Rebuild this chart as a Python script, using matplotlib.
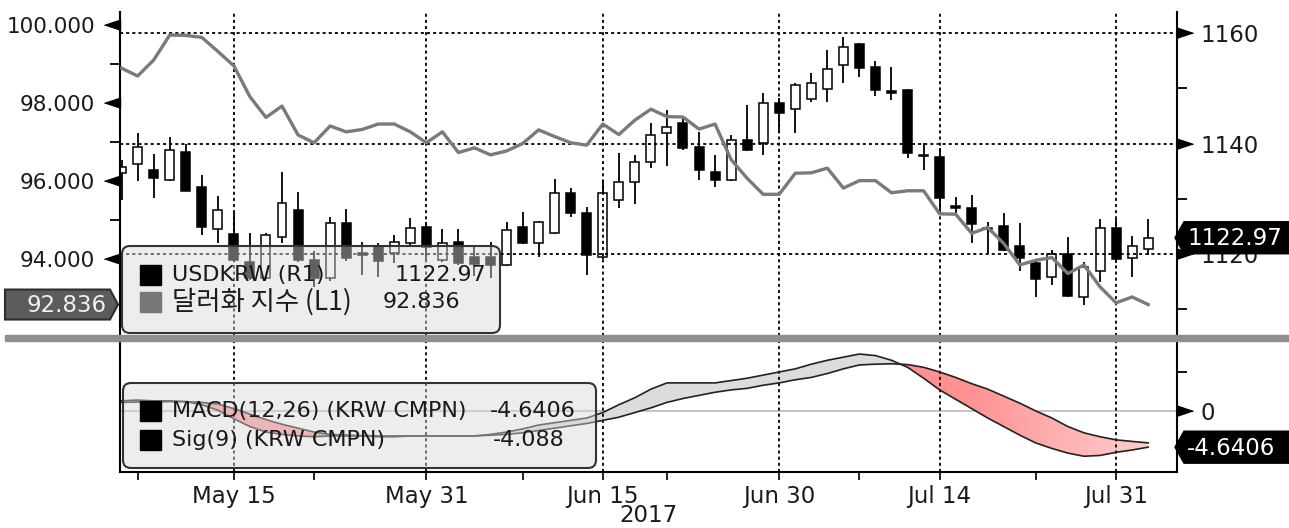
import numpy as np
import pandas as pd
import matplotlib
matplotlib.use("Agg")
import matplotlib.pyplot as plt
from matplotlib.patches import FancyBboxPatch, Polygon, Rectangle
from matplotlib.path import Path
from matplotlib.colors import LinearSegmentedColormap
from matplotlib.transforms import blended_transform_factory, IdentityTransform

W, H = 1289, 528

# ---- data ----
dates = pd.bdate_range("2017-05-04", "2017-08-02")

krw_open = [1134.7, 1136.3, 1135.3, 1133.4, 1138.5, 1132.1, 1124.6, 1123.7, 1118.6, 1115.7,
            1123.1, 1128.0, 1119.0, 1115.7, 1125.6, 1120.3, 1121.3, 1120.2, 1122.0, 1124.9,
            1118.9, 1122.2, 1119.5, 1119.5, 1118.0, 1124.9, 1122.0, 1123.8, 1131.0, 1127.4,
            1119.5, 1129.8, 1133.0, 1136.7, 1141.9, 1143.7, 1139.4, 1134.8, 1133.4, 1140.6,
            1140.1, 1147.3, 1146.2, 1148.1, 1149.9, 1154.2, 1158.0, 1153.8, 1149.5, 1149.7,
            1138.0, 1137.6, 1128.7, 1128.3, 1124.8, 1125.1, 1121.4, 1118.4, 1115.8, 1120.0,
            1112.2, 1116.9, 1124.7, 1119.3, 1120.9]
krw_high = [1137.0, 1142.0, 1138.2, 1141.2, 1140.0, 1134.3, 1130.5, 1127.6, 1123.8, 1123.8,
            1134.8, 1131.2, 1120.5, 1126.7, 1128.1, 1122.2, 1122.0, 1123.4, 1126.5, 1125.8,
            1124.5, 1124.5, 1121.3, 1122.2, 1125.8, 1127.6, 1126.0, 1133.6, 1131.9, 1128.5,
            1133.4, 1138.3, 1137.9, 1143.7, 1146.1, 1144.6, 1142.1, 1137.9, 1141.5, 1147.0,
            1149.1, 1148.2, 1150.9, 1152.8, 1156.9, 1159.3, 1158.2, 1154.9, 1153.8, 1149.9,
            1140.1, 1139.2, 1130.3, 1130.7, 1125.8, 1127.4, 1125.6, 1119.0, 1120.7, 1123.1,
            1118.6, 1126.3, 1126.3, 1123.3, 1126.3]
krw_low = [1129.8, 1133.3, 1130.1, 1133.3, 1131.4, 1123.4, 1122.1, 1118.5, 1115.3, 1115.5,
           1122.0, 1118.5, 1114.0, 1115.2, 1118.8, 1116.2, 1115.8, 1118.4, 1121.3, 1118.9,
           1118.5, 1118.0, 1116.0, 1115.7, 1117.8, 1121.8, 1119.5, 1123.6, 1126.7, 1116.2,
           1119.2, 1128.3, 1129.0, 1135.6, 1135.9, 1138.8, 1133.4, 1132.1, 1133.2, 1138.6,
           1137.9, 1141.9, 1141.9, 1147.5, 1147.5, 1150.9, 1152.0, 1148.6, 1147.9, 1137.4,
           1135.2, 1128.0, 1127.0, 1122.0, 1120.0, 1120.5, 1116.9, 1112.2, 1114.4, 1112.2,
           1110.8, 1114.9, 1118.4, 1115.8, 1119.8]
krw_close = [1135.7, 1139.4, 1133.7, 1138.9, 1131.5, 1124.9, 1128.0, 1118.9, 1115.7, 1123.4,
             1129.2, 1118.9, 1115.7, 1125.6, 1119.3, 1119.9, 1118.8, 1122.2, 1124.7, 1121.3,
             1122.0, 1118.4, 1118.3, 1118.0, 1124.3, 1122.0, 1125.8, 1131.0, 1127.4, 1119.8,
             1131.0, 1133.0, 1136.7, 1141.5, 1143.0, 1139.2, 1135.2, 1133.4, 1140.6, 1138.8,
             1147.3, 1145.5, 1150.6, 1150.9, 1153.5, 1157.5, 1153.7, 1149.7, 1149.2, 1138.3,
             1137.8, 1130.1, 1128.3, 1125.4, 1124.6, 1120.7, 1119.3, 1115.5, 1120.0, 1112.4,
             1117.6, 1124.7, 1119.1, 1121.4, 1122.97]

dxy = [98.89, 98.69, 99.10, 99.74, 99.73, 99.68, 99.32, 98.95, 98.16, 97.63,
       97.92, 97.18, 96.98, 97.41, 97.26, 97.32, 97.46, 97.46, 97.26, 96.98,
       97.26, 96.73, 96.85, 96.67, 96.77, 96.96, 97.31, 97.14, 96.98, 96.92,
       97.46, 97.19, 97.56, 97.84, 97.65, 97.64, 97.33, 97.46, 96.55, 96.07,
       95.66, 95.66, 96.20, 96.21, 96.33, 95.82, 96.01, 96.01, 95.70, 95.75,
       95.75, 95.16, 95.15, 94.66, 94.81, 94.40, 93.85, 93.97, 94.04, 93.63,
       93.85, 93.29, 92.88, 93.03, 92.836]

macd = [1.3, 1.4, 1.3, 1.3, 1.2, 0.8, 0.1, -1.0, -2.0, -2.7,
        -3.0, -3.2, -3.3, -3.2, -3.2, -3.2, -3.3, -3.3, -3.2, -3.2,
        -3.2, -3.2, -3.2, -3.0, -2.7, -2.3, -1.8, -1.5, -1.2, -0.9,
        -0.2, 0.8, 1.7, 2.8, 3.6, 3.6, 3.6, 3.6, 3.9, 4.2,
        4.6, 5.0, 5.4, 6.0, 6.5, 6.9, 7.3, 7.1, 6.5, 5.6,
        4.2, 2.7, 1.5, 0.3, -0.9, -2.0, -3.1, -4.1, -4.8, -5.4,
        -5.8, -5.7, -5.3, -5.0, -4.6406]
signal = [1.1, 1.15, 1.2, 1.2, 1.2, 1.1, 0.9, 0.3, -0.4, -1.1,
          -1.7, -2.2, -2.7, -3.0, -3.1, -3.15, -3.2, -3.2, -3.2, -3.2,
          -3.2, -3.2, -3.2, -3.1, -3.0, -2.8, -2.5, -2.2, -1.9, -1.6,
          -1.2, -0.8, -0.2, 0.4, 1.1, 1.6, 2.0, 2.4, 2.7, 2.9,
          3.3, 3.6, 4.0, 4.3, 4.8, 5.4, 5.9, 6.0, 6.05, 5.95,
          5.6, 5.0, 4.3, 3.5, 2.8, 1.9, 1.0, 0.0, -0.9, -2.0,
          -2.8, -3.3, -3.7, -3.9, -4.088]

major_dates = ["2017-05-15", "2017-05-31", "2017-06-15", "2017-06-30", "2017-07-14", "2017-07-31"]
minor_dates = ["2017-05-05", "2017-05-22", "2017-06-08", "2017-06-21", "2017-07-07", "2017-07-24"]
krw_ticks = [1120, 1140, 1160]
krw_minor = [1110, 1130, 1150]
dxy_ticks = [94, 96, 98, 100]
dxy_minor = [95, 97, 99]

x = np.arange(len(dates))
o = np.array(krw_open); c = np.array(krw_close)
hi = np.array(krw_high); lo = np.array(krw_low)
macd = np.array(macd); signal = np.array(signal)
major_pos = dates.get_indexer(pd.to_datetime(major_dates))
minor_pos = dates.get_indexer(pd.to_datetime(minor_dates))
major_lab = [d.strftime("%b %d") for d in pd.to_datetime(major_dates)]

TXT = "#1a1a1a"
FS = 16.5   # axis / tag text
LFS = 16    # legend text
grid_kw = dict(color="black", lw=1.3, ls=(0, (1.7, 1.7)))
tri_l = [(0, -1), (0, 1), (-3, 0)]
tri_r = [(0, -1), (0, 1), (3, 0)]
ID = IdentityTransform()

fig = plt.figure(figsize=(W / 100, H / 100), dpi=100)
fig.patch.set_facecolor("white")

# ---- top panel: candles on the right axis, dollar index on the left ----
ax = fig.add_axes([120 / W, 1 - 336 / H, 1057 / W, 324 / H])
ax2 = ax.twinx()
ax.set_xlim(-0.1, 65.8)
ax.set_ylim(1105.2, 1163.8)
ax.set_axisbelow(False)
up = c >= o
ax.vlines(x, lo, hi, color="black", lw=1.3, zorder=1)
ax.bar(x, c - o, bottom=o, width=0.56, color=np.where(up, "white", "black"),
       edgecolor="black", lw=1.1, zorder=1.5)
ax.yaxis.tick_right()
ax.yaxis.set_label_position("right")
ax.set_yticks(krw_ticks)
ax.set_yticks(krw_minor, minor=True)
ax.set_yticklabels([str(v) for v in krw_ticks])
ax.tick_params(axis="y", which="major", length=0, pad=17, labelsize=FS, labelcolor=TXT)
ax.tick_params(axis="y", which="minor", length=7, width=1.3, direction="out")
ax.set_xticks(major_pos)
ax.tick_params(axis="x", which="both", length=0, labelbottom=False)
ax.grid(True, axis="both", **grid_kw)
for s in ["top", "bottom"]:
    ax.spines[s].set_visible(False)
for s in ["left", "right"]:
    ax.spines[s].set_linewidth(1.5)
tr = blended_transform_factory(ax.transAxes, ax.transData)
ax.plot(np.ones(len(krw_ticks)), krw_ticks, ls="none", marker=tri_r, ms=23,
        color="black", transform=tr, clip_on=False)

ax2.set_ylim(92.03, 100.33)
ax2.plot(x, dxy, color="#7a7a7a", lw=2.4, zorder=3)
ax2.yaxis.tick_left()
ax2.yaxis.set_label_position("left")
ax2.set_yticks(dxy_ticks)
ax2.set_yticks(dxy_minor, minor=True)
ax2.set_yticklabels([f"{v:.3f}" for v in dxy_ticks])
ax2.tick_params(axis="y", which="major", length=0, pad=18, labelsize=15.5, labelcolor=TXT)
ax2.tick_params(axis="y", which="minor", length=7, width=1.3, direction="out")
for s in ax2.spines.values():
    s.set_visible(False)
tr2 = blended_transform_factory(ax2.transAxes, ax2.transData)
ax2.plot(np.zeros(len(dxy_ticks)), dxy_ticks, ls="none", marker=tri_l, ms=23,
         color="black", transform=tr2, clip_on=False)

# ---- MACD panel ----
axm = fig.add_axes([120 / W, 1 - 472 / H, 1057 / W, 131 / H])
axm.set_xlim(-0.1, 65.8)
axm.set_ylim(-7.82, 8.97)
axm.axhline(0, color="#c4c4c4", lw=1.4, zorder=0.5)
axm.fill_between(x, macd, signal, where=macd >= signal, interpolate=True,
                 color="#dcdcdc", lw=0, zorder=1)
red = axm.fill_between(x, macd, signal, where=macd < signal, interpolate=True,
                       color="none", lw=0, zorder=1)
# pink fill fading from left to right, clipped to the red region
cmap = LinearSegmentedColormap.from_list("pk", ["#ff9a9a", "#ff9090", "#ffd2d2"])
grad = np.clip((np.linspace(-0.1, 65.8, 400) - 40) / 25, 0, 1)[None, :]
im = axm.imshow(grad, cmap=cmap, vmin=0, vmax=1, aspect="auto",
                extent=(-0.1, 65.8, -7.82, 8.97), zorder=1, interpolation="bilinear")
im.set_clip_path(Path.make_compound_path(*red.get_paths()), transform=axm.transData)
axm.plot(x, macd, color="#222222", lw=1.2, zorder=2)
axm.plot(x, signal, color="#222222", lw=1.2, zorder=2)
axm.set_xticks(major_pos)
axm.set_xticks(minor_pos, minor=True)
axm.set_xticklabels(major_lab)
axm.tick_params(axis="x", which="both", length=6, width=1.2, direction="out", pad=3,
                labelsize=FS, labelcolor=TXT)
axm.grid(True, axis="x", **grid_kw)
axm.yaxis.tick_right()
axm.set_yticks([0])
axm.set_yticklabels(["0"])
axm.set_yticks([-5, 5], minor=True)
axm.tick_params(axis="y", which="major", length=0, pad=17, labelsize=FS, labelcolor=TXT)
axm.tick_params(axis="y", which="minor", length=7, width=1.3, direction="out")
axm.spines["top"].set_visible(False)
for s in ["left", "right", "bottom"]:
    axm.spines[s].set_linewidth(1.5)
trm = blended_transform_factory(axm.transAxes, axm.transData)
axm.plot([1], [0], ls="none", marker=tri_r, ms=23, color="black", transform=trm, clip_on=False)
axm.text(0.5, -0.33, str(dates[0].year), transform=axm.transAxes, ha="center", va="center",
         fontsize=FS, color=TXT)

# ---- separator between panels ----
fig.add_artist(Rectangle((5, H - 341), W - 5, 6, transform=ID, color="#8f8f8f", zorder=2))


def legend_box(x0, y0, x1, y1):
    fig.add_artist(FancyBboxPatch((x0, H - y1), x1 - x0, y1 - y0,
                                  boxstyle="round,pad=0,rounding_size=8", transform=ID,
                                  facecolor=(0.85, 0.85, 0.85, 0.45), edgecolor="#333333",
                                  lw=1.5, zorder=4))


def legend_row(y, sq_color, label, value, vx, fs=LFS, fam=("DejaVu Sans",)):
    fig.add_artist(Rectangle((140, H - y - 10), 21, 20, transform=ID, color=sq_color, zorder=5))
    fig.text(172, H - y, label, transform=ID, va="center", ha="left", fontsize=fs, color=TXT,
             family=list(fam), zorder=5)
    fig.text(vx, H - y, value, transform=ID, va="center", ha="left", fontsize=LFS, color=TXT,
             zorder=5)


legend_box(122, 246, 500, 333)
legend_row(275, "black", "USDKRW (R1)", f"{c[-1]:.2f}", 395)
legend_row(302, "#777777", "달러화 지수 (L1)", f"{dxy[-1]:.3f}", 383,
           fs=19, fam=("Noto Sans CJK KR", "DejaVu Sans"))

legend_box(123, 383, 596, 468)
legend_row(411, "black", "MACD(12,26) (KRW CMPN)", f"{macd[-1]:.4f}", 490)
legend_row(440, "black", "Sig(9) (KRW CMPN)", f"{signal[-1]:.3f}", 493)


# ---- value tags ----
def tag_right(axis, val, text):
    xd, yd = axis.transData.transform((axis.get_xlim()[1], val))
    xd -= 2
    pts = [(xd, yd), (xd + 9, yd + 16), (W, yd + 16), (W, yd - 16), (xd + 9, yd - 16)]
    fig.add_artist(Polygon(pts, closed=True, transform=ID, facecolor="black",
                           edgecolor="black", zorder=6))
    fig.text(xd + 12, yd - 1, text, transform=ID, va="center", ha="left", fontsize=FS,
             color="white", zorder=7)


def tag_left(axis, val, text):
    xd, yd = axis.transData.transform((axis.get_xlim()[0], val))
    xd -= 2
    pts = [(5, yd + 15), (xd - 8, yd + 15), (xd, yd), (xd - 8, yd - 15), (5, yd - 15)]
    fig.add_artist(Polygon(pts, closed=True, transform=ID, facecolor="#5c5c5c",
                           edgecolor="#2e2e2e", lw=1.5, zorder=6))
    fig.text(xd - 11, yd - 1, text, transform=ID, va="center", ha="right", fontsize=FS,
             color="#f0f0f0", zorder=7)


tag_right(ax, c[-1], f"{c[-1]:.2f}")
tag_right(axm, macd[-1], f"{macd[-1]:.4f}")
tag_left(ax2, dxy[-1], f"{dxy[-1]:.3f}")

fig.savefig("out.png", dpi=100)
